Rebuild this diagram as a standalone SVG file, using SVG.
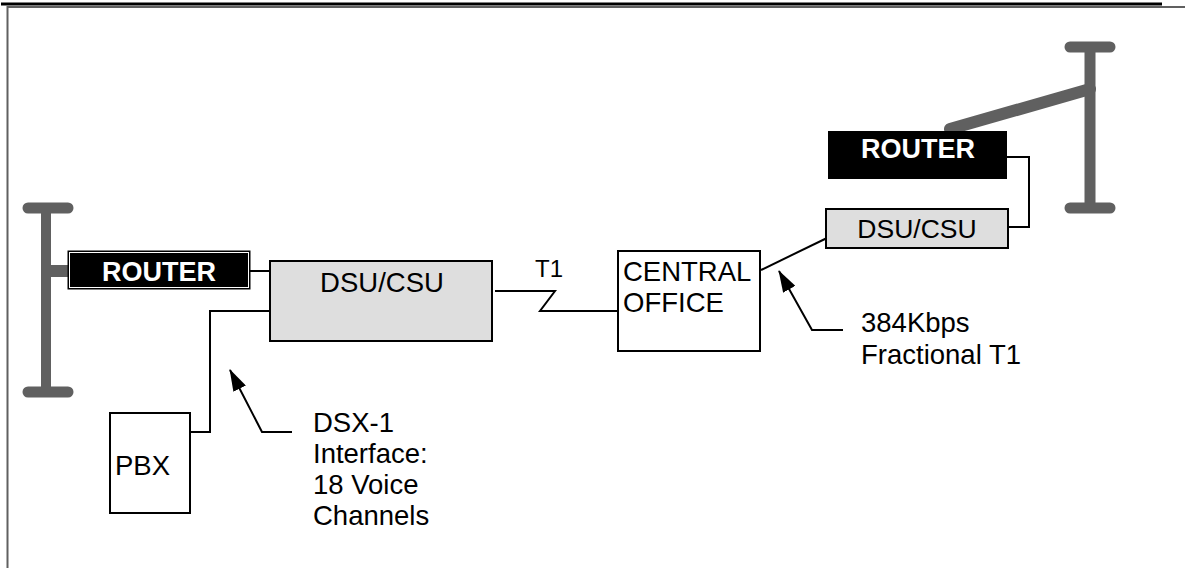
<svg xmlns="http://www.w3.org/2000/svg" width="1185" height="568" viewBox="0 0 1185 568">
<style>
text{font-family:"Liberation Sans",Arial,sans-serif;font-size:27.5px;fill:#000}
.bar{stroke:#606060;fill:none}
.box{fill:#fff;stroke:#000;stroke-width:2}
.dsu{fill:#dedede;stroke:#000;stroke-width:2}
.wire{fill:none;stroke:#000;stroke-width:2}
.rt{fill:#fff;font-weight:bold;text-anchor:middle;font-size:27px}
</style>
<defs>
<marker id="ah" viewBox="0 0 22 14" refX="21" refY="7" markerWidth="22" markerHeight="14" markerUnits="userSpaceOnUse" orient="auto">
<path d="M0,0 L22,7 L0,14 Z" fill="#000"/>
</marker>
</defs>
<rect width="1185" height="568" fill="#fff"/>
<g id="frame">
<line x1="1" y1="4" x2="1162" y2="4" stroke="#000" stroke-width="3"/>
<polyline points="7.5,568 7.5,7 1185,7" fill="none" stroke="#606060" stroke-width="2"/>
</g>
<g id="connectors">
<line class="bar" x1="46" y1="271" x2="70" y2="271" stroke-width="12"/>
<line class="bar" x1="950" y1="129" x2="1090" y2="89" stroke-width="12" stroke-linecap="round"/>
<path class="wire" d="M250,271 H270"/>
<path class="wire" d="M270,311 H210 V432 H190"/>
<path class="wire" d="M495,291 H555 L540,311 H618"/>
<path class="wire" d="M761,270 L827,238"/>
<path class="wire" d="M1007,157 H1029 V227 H1008"/>
<path class="wire" d="M292,432 H262 L230,370" marker-end="url(#ah)"/>
<path class="wire" d="M843,330 H812 L779,271" marker-end="url(#ah)"/>
</g>
<g id="lan-left">
<line class="bar" x1="46" y1="208" x2="46" y2="392" stroke-width="10"/>
<line class="bar" x1="28" y1="208" x2="68" y2="208" stroke-width="11" stroke-linecap="round"/>
<line class="bar" x1="28" y1="392" x2="68" y2="392" stroke-width="11" stroke-linecap="round"/>
</g>
<g id="lan-right">
<line class="bar" x1="1090" y1="47" x2="1090" y2="208" stroke-width="11"/>
<line class="bar" x1="1070" y1="47" x2="1110" y2="47" stroke-width="11" stroke-linecap="round"/>
<line class="bar" x1="1070" y1="208" x2="1110" y2="208" stroke-width="11" stroke-linecap="round"/>
</g>
<g id="router-left">
<rect x="68" y="251" width="182" height="38" fill="#000" stroke="#000" stroke-width="1"/>
<rect x="69.5" y="252.5" width="179" height="35" fill="none" stroke="#fff" stroke-width="1"/>
<text class="rt" x="159" y="281">ROUTER</text>
</g>
<g id="dsu-left">
<rect class="dsu" x="270" y="261" width="222" height="80"/>
<text x="382" y="292" text-anchor="middle">DSU/CSU</text>
</g>
<g id="pbx">
<rect class="box" x="110" y="413" width="80" height="100"/>
<text x="115" y="475">PBX</text>
</g>
<g id="t1-label">
<text x="535" y="277" style="font-size:24px">T1</text>
</g>
<g id="central-office">
<rect class="box" x="618" y="251" width="142" height="100"/>
<text x="623" y="281">CENTRAL</text>
<text x="623" y="312">OFFICE</text>
</g>
<g id="dsu-right">
<rect class="dsu" x="826" y="209" width="182" height="39"/>
<text x="917" y="238" text-anchor="middle" style="font-size:26.5px">DSU/CSU</text>
</g>
<g id="router-right">
<rect x="828" y="131" width="179" height="48" fill="#000"/>
<text class="rt" x="918" y="158">ROUTER</text>
</g>
<g id="dsx-label">
<text x="313" y="432">DSX-1</text>
<text x="313" y="463">Interface:</text>
<text x="313" y="494">18 Voice</text>
<text x="313" y="525">Channels</text>
</g>
<g id="fractional-label">
<text x="861" y="332">384Kbps</text>
<text x="861" y="364">Fractional T1</text>
</g>
</svg>
